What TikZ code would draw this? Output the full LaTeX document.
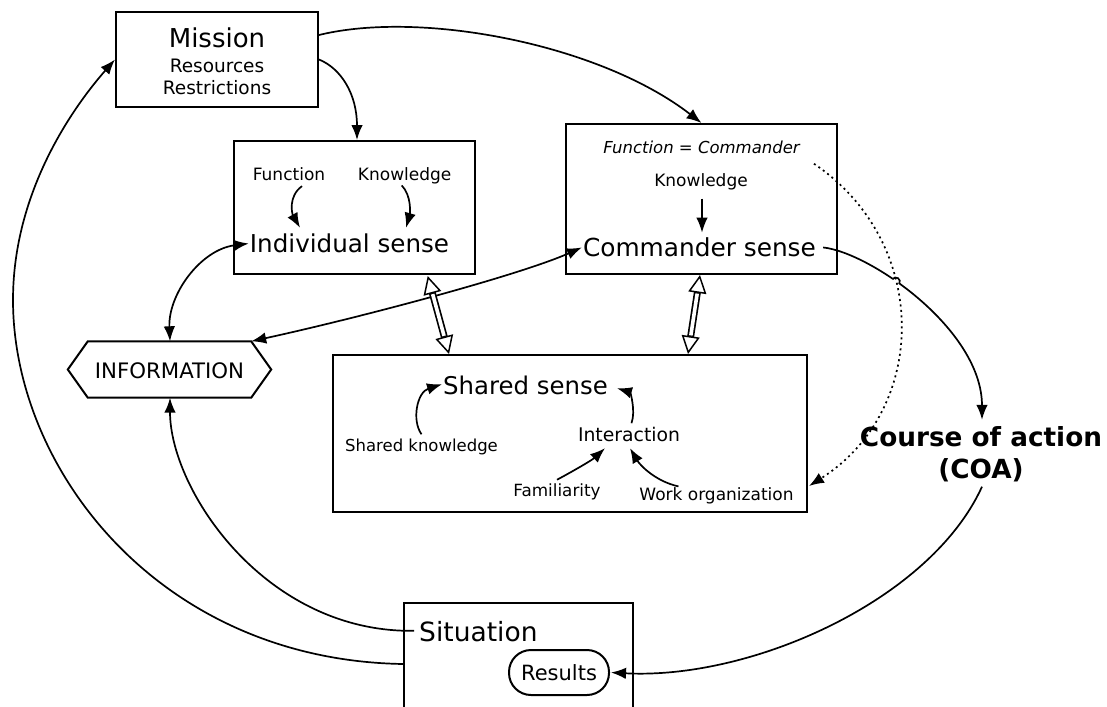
\documentclass[tikz,border=0pt]{standalone}
\usepackage{fontspec}
\setmainfont{DejaVu Sans}
\usetikzlibrary{arrows.meta,calc,intersections}
\newcommand\fsz[1]{\fontsize{#1}{#1}\selectfont}
\begin{document}
\begin{tikzpicture}[x=1pt,y=-1pt,
  >={Latex[length=15pt,width=11.5pt]},
  box/.style={draw,line width=2pt,inner sep=0pt},
  txt/.style={inner sep=1pt,anchor=base},
  ln/.style={line width=1.7pt},
  arr/.style={ln,->},
  darr/.style={ln,<->},
  dblo/.style={line width=7pt,{Triangle[fill=white,line width=1.5pt,length=18pt,width=18pt]}-{Triangle[fill=white,line width=1.5pt,length=18pt,width=18pt]}},
  dbli/.style={white,line width=3.6pt,shorten <=18.8pt,shorten >=18.8pt},
  dotl/.style={ln,->,dash pattern=on 2pt off 3.5pt}]
\useasboundingbox (0,0) rectangle (1107,706);
\clip (0,0) rectangle (1107,706);
\fill[white] (0,0) rectangle (1107,706);

% Mission
\node[box,minimum width=202pt,minimum height=95pt] (mission) at (217,59.5) {};
\node[txt,font=\fsz{26}] (mtitle) at (217,47.3) {Mission};
\node[txt,font=\fsz{18.5}] (mres) at (217,72.3) {Resources};
\node[txt,font=\fsz{18.5}] (mrest) at (217,94.3) {Restrictions};

% Individual
\node[box,minimum width=241pt,minimum height=133pt] (indiv) at (354.5,207.5) {};
\node[txt,font=\fsz{17}] (ifunc) at (289,180.7) {Function};
\node[txt,font=\fsz{17}] (iknow) at (404.7,180.7) {Knowledge};
\node[txt,font=\fsz{24.6}] (isense) at (349.5,252.7) {Individual sense};

% Commander
\node[box,minimum width=271pt,minimum height=150pt] (cmd) at (701.5,199) {};
\node[txt,font=\fsz{16.5}\itshape] (fcmd) at (701.5,153.3) {Function = Commander};
\node[txt,font=\fsz{17}] (cknow) at (701,186) {Knowledge};
\node[txt,font=\fsz{24.8}] (csense) at (699.5,256.7) {Commander sense};

% Shared
\node[box,minimum width=474pt,minimum height=157pt] (shared) at (570,433.5) {};
\node[txt,font=\fsz{24.4}] (ssense) at (525.5,394.3) {Shared sense};
\node[txt,font=\fsz{16.5}] (skn) at (421.5,451) {Shared knowledge};
\node[txt,font=\fsz{18.8}] (inter) at (629,441.7) {Interaction};
\node[txt,font=\fsz{16.8}] (fam) at (557,496.7) {Familiarity};
\node[txt,font=\fsz{17}] (work) at (716.5,500.5) {Work organization};

% Information
\node[minimum width=203pt,minimum height=56pt,inner sep=0pt] (info) at (169.5,369.5) {};
\draw[line width=2pt] (info.west) -- ($(info.north west)+(20,0)$) -- ($(info.north east)+(-20,0)$) -- (info.east) -- ($(info.south east)+(-20,0)$) -- ($(info.south west)+(20,0)$) -- cycle;
\node[txt,font=\fsz{21.3}] (infotext) at (169.5,378.3) {INFORMATION};

% Situation
\node[box,minimum width=229pt,minimum height=126pt] (sitbox) at (518.5,666) {};
\node[inner sep=1pt,anchor=base west,font=\fsz{26.5}] (sit) at (418,641.7) {Situation};
\node[draw,line width=2pt,rounded corners=22pt,minimum width=100pt,minimum height=45pt,inner sep=0pt,font=\fsz{21}] (results) at (559,672.5) {Results};

% COA
\node[txt,font=\fsz{26.3}\bfseries] (coa1) at (981,446) {Course of action};
\node[txt,font=\fsz{26.3}\bfseries] (coa2) at (981,478) {(COA)};

% connectors
\draw[arr] (mission.east) .. controls +(22,9) and +(0,-46) .. ($(indiv.north)+(2.5,0)$);
\draw[arr] ($(mission.east)+(0,-24.5)$) .. controls +(102,-25) and +(-102,-79) .. (cmd.north);

\draw[arr] ($(ifunc.south)+(13,4)$) .. controls +(-14,10) and +(-8,-14) .. ($(isense.north)+(-49.5,-5)$);
\draw[arr] ($(iknow.south)+(-3,0)$) .. controls +(10,10) and +(4,-14) .. ($(isense.north)+(56.5,-5)$);
\draw[arr] ($(cknow.south)+(1,8)$) -- ($(csense.north)+(2.5,-4)$);

\draw[darr] ($(info.north)+(0.5,0)$) .. controls +(-2,-47) and +(-48,6) .. (isense.west);
\draw[darr] (csense.west) .. controls +(-62,27.6) and +(110,-24) .. ($(info.north east)+(-20,0)$);

\draw[dblo] ($(indiv.south east)+(-48.3,1)$) -- ($(shared.north west)+(117,0)$);
\draw[dbli] ($(indiv.south east)+(-48.3,1)$) -- ($(shared.north west)+(117,0)$);
\draw[dblo] ($(cmd.south)+(-1.5,0)$) -- ($(shared.north)+(118,0)$);
\draw[dbli] ($(cmd.south)+(-1.5,0)$) -- ($(shared.north)+(118,0)$);

\draw[arr] ($(skn.north)+(0,-3)$) .. controls +(-10,-14) and +(-25,8) .. ($(ssense.west)+(0,-1)$);
\draw[arr] ($(inter.north)+(2.5,-3)$) .. controls +(4.5,-13) and +(13,4) .. ($(ssense.east)+(8,3)$);
\draw[arr] ($(fam.north)+(0,-3)$) .. controls +(15,-8) and +(-13,12) .. ($(inter.south)+(-24,5)$);
\draw[arr] ($(work.north)+(-38,0)$) .. controls +(-23,-5) and +(10,17) .. ($(inter.south)+(1,5)$);

% commander sense -> COA with jump over the dotted line
\draw[arr,name path=solidp] ($(csense.east)+(6,0)$) .. controls +(47,5) and +(0,-90) .. ($(coa1.north)+(1,-5)$);
\path[name path=dotp] ($(fcmd.south east)+(13,9)$) .. controls +(117,79) and +(120,-76) .. ($(shared.south east)+(1,-27)$);
\path[name intersections={of=solidp and dotp,by=J}];
\fill[white] (J) circle (4.5);
\draw[ln] ($(J)+(-3.4,-2.3)$) .. controls +(3.1,-4.6) and +(3.1,-4.6) .. ($(J)+(3.4,2.3)$);
\draw[dotl] ($(fcmd.south east)+(13,9)$) .. controls +(117,79) and +(120,-76) .. ($(shared.south east)+(1,-27)$);

\draw[arr] ($(coa2.south)+(1,4)$) .. controls +(-52,114) and +(140,7.5) .. ($(results.east)+(1,0)$);

\draw[arr] ($(sit.west)+(-4,-1)$) .. controls +(-149,2) and +(0,92) .. ($(info.south)+(0.5,0)$);
\draw[arr] ($(sitbox.west)+(0,-2)$) .. controls (160,660) and (13,470) .. (13,300) .. controls (13,190) and (75,105) .. (mission.west);
\end{tikzpicture}
\end{document}
